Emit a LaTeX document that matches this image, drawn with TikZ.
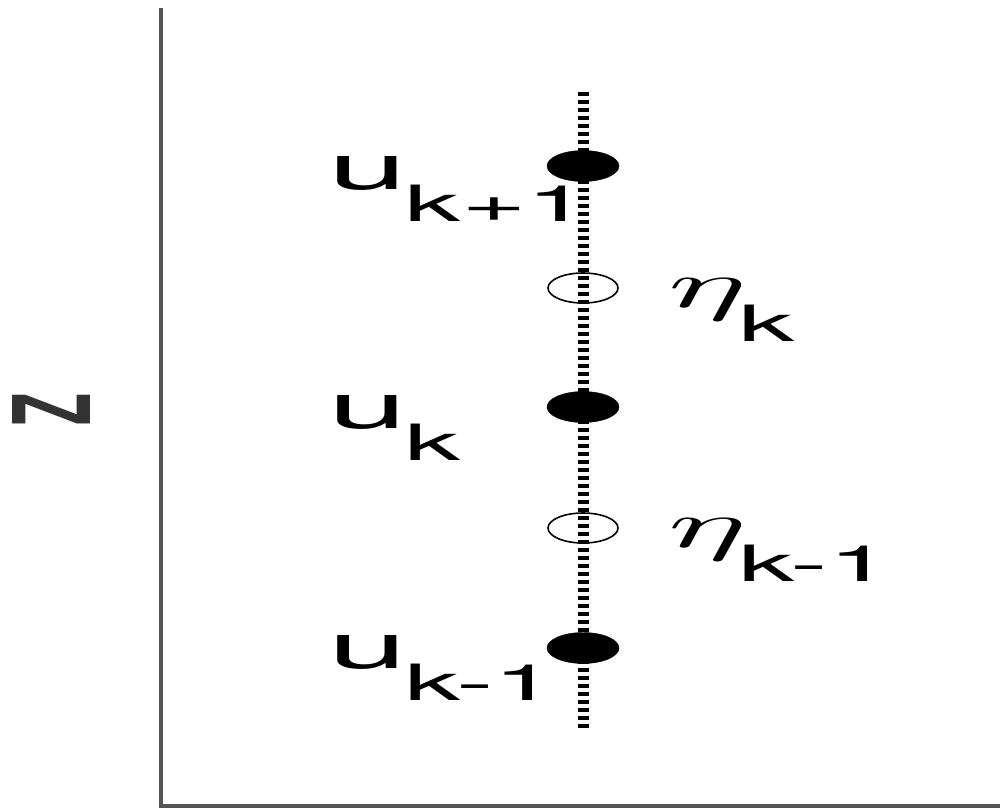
\documentclass[tikz,border=0pt]{standalone}
\usepackage{fontspec}
\setmainfont{TeX Gyre Heros}
\usetikzlibrary{shapes.geometric}
\definecolor{axisgray}{HTML}{555555}
\definecolor{zgray}{HTML}{333333}
\newcommand\ulabel[1]{\scalebox{2.25}[1]{\fontsize{63}{63}\selectfont u\hspace{-1pt}\raisebox{-32pt}{\fontsize{50}{50}\selectfont #1}}}
\newcommand\elabel[1]{\scalebox{2.25}[1]{\scalebox{6.55}[6.7]{$\eta$}\hspace{-3.5pt}\raisebox{-34pt}{\fontsize{50}{50}\selectfont #1}}}
\begin{document}
\begin{tikzpicture}[x=1pt,y=-1pt,
  axisline/.style={draw=axisgray, line width=4pt},
  ladder/.style={draw=black, line width=11pt, dash pattern=on 4pt off 4pt},
  fullpt/.style={ellipse, fill=black, draw=black, minimum width=72pt, minimum height=31pt, inner sep=0pt},
  openpt/.style={ellipse, draw=black, line width=1.6pt, minimum width=70pt, minimum height=30pt, inner sep=0pt},
  lab/.style={anchor=base west, inner sep=0pt}]
\path[use as bounding box] (0,0) rectangle (1000,809);
% axes
\coordinate (top) at (161,8);
\coordinate (corner) at (161,806);
\coordinate (right) at (1000,806);
\draw[axisline] (top) -- (corner) -- (right);
\node[inner sep=0pt] (zlab) at (51,409) {\color{zgray}\resizebox{78pt}{32pt}{\rotatebox{90}{\bfseries Z}}};
% ladder
\coordinate (ltop) at (583,92);
\coordinate (lbot) at (583,728);
\draw[ladder] (ltop) -- (lbot);
% points
\node[fullpt] (u1) at (583,166) {};
\node[openpt] (e1) at (583,288) {};
\node[fullpt] (u0) at (583,407) {};
\node[openpt] (e0) at (583,528) {};
\node[fullpt] (um) at (583,648) {};
% labels
\node[lab] (lu1) at (328,189) {\ulabel{k+1}};
\node[lab] (lu0) at (328,428) {\ulabel{k}};
\node[lab] (lum) at (328,668) {\ulabel{k-1}};
\node[lab] (le1) at (668,307) {\elabel{k}};
\node[lab] (le0) at (668,547) {\elabel{k-1}};
\end{tikzpicture}
\end{document}
